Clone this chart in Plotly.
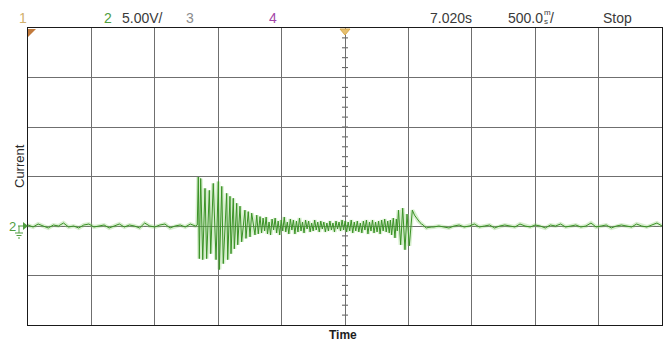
import plotly.graph_objects as go

# ---- figure geometry -------------------------------------------------------
W, H = 672, 342
ML, MR, MT, MB = 28, 10, 28, 17

T_RANGE_MS = [-2500, 2500]   # 10 div x 500 ms/div
V_DIV = 5.0                  # 5.00 V/div
V_RANGE = [-2 * V_DIV, 4 * V_DIV]   # ch2 ground sits one division below centre
T_DIV_MS = 500
T_CENTRE = 0.0

# ---- channel 2 record (time in ms from trigger, amplitude in V) ------------
pre_t = [-2500, -2460, -2420, -2380, -2340, -2300, -2260, -2220, -2180, -2140,
         -2100, -2060, -2020, -1980, -1940, -1900, -1860, -1820, -1780, -1740,
         -1700, -1660, -1620, -1580, -1540, -1500, -1460, -1420, -1380, -1340,
         -1300, -1260, -1220, -1180]
pre_v = [0.1, -0.1, 0.2, 0.0, -0.2, 0.1, 0.0, 0.3, -0.1, 0.0,
         -0.2, 0.1, 0.2, -0.1, 0.0, 0.1, -0.2, 0.0, 0.2, -0.1,
         0.1, 0.0, -0.2, 0.3, 0.0, -0.1, 0.1, 0.2, -0.2, 0.0,
         0.1, -0.1, 0.2, 0.0]

# main burst: alternating peaks of the ringing
burst = [(-1165, 0.1), (-1157, 4.95), (-1149, -3.3), (-1138, 4.8), (-1122, -3.4),
         (-1104, 3.8), (-1091, -3.3), (-1070, 3.6), (-1059, -2.8), (-1039, 4.3),
         (-1017, -3.4), (-999, 4.5), (-991, -4.4), (-972, 4.0), (-960, -3.8),
         (-933, 3.3), (-925, -3.4), (-907, 3.0), (-899, -2.8), (-881, 2.8),
         (-873, -2.3), (-854, 2.3), (-846, -1.9), (-828, 2.0), (-815, -1.6),
         (-789, 1.6), (-781, -1.25), (-763, 1.45), (-749, -1.1), (-736, 1.3),
         (-710, -0.9), (-696, 1.1), (-684, -0.8), (-670, 0.95)]

# residual ripple between the two events
ripple = [(-658, -0.7), (-646, 0.8), (-634, -0.5), (-622, 0.9), (-611, -0.8),
          (-599, 0.4), (-587, -0.9), (-575, 0.7), (-563, -0.4), (-551, 0.8),
          (-539, -0.7), (-527, 0.5), (-515, -0.9), (-503, 0.6), (-491, -0.5),
          (-479, 0.9), (-467, -0.6), (-455, 0.4), (-443, -0.8), (-431, 0.7),
          (-419, -0.4), (-407, 0.6), (-395, -0.8), (-383, 0.5), (-371, -0.6),
          (-359, 0.8), (-347, -0.5), (-335, 0.4), (-323, -0.7), (-311, 0.6),
          (-299, -0.3), (-287, 0.5), (-275, -0.6), (-263, 0.3), (-251, -0.5),
          (-239, 0.6), (-227, -0.4), (-215, 0.4), (-203, -0.6), (-191, 0.5),
          (-179, -0.3), (-167, 0.4), (-155, -0.6), (-143, 0.3), (-131, -0.5),
          (-119, 0.5), (-107, -0.4), (-95, 0.3), (-83, -0.6), (-71, 0.5),
          (-59, -0.3), (-47, 0.4), (-35, -0.5), (-23, 0.6), (-11, -0.4),
          (1, 0.5), (13, -0.6), (25, 0.4), (37, -0.5), (49, 0.6),
          (61, -0.7), (73, 0.4), (85, -0.5), (97, 0.5), (109, -0.6),
          (121, 0.3), (133, -0.7), (145, 0.5), (157, -0.4), (169, 0.6),
          (181, -0.8), (193, 0.4), (205, -0.5), (217, 0.6), (229, -0.7),
          (241, 0.4), (253, -0.6), (265, 0.5), (277, -0.8), (289, 0.6),
          (301, -0.5), (313, 0.7), (325, -0.6), (337, 0.5), (349, -0.7),
          (358, 0.6)]

# second event and its decay back to the baseline
second = [(368, -0.9), (381, 0.8), (394, -1.2), (405, 0.7), (412, -0.5),
          (422, 1.6), (439, -1.9), (455, 1.8), (473, -2.4), (489, 1.2),
          (507, -2.0), (531, 1.6), (548, 1.1), (565, 0.8), (578, 0.5),
          (591, 0.35), (604, 0.2), (617, 0.1), (631, -0.1), (643, -0.2),
          (655, -0.15), (670, -0.1), (685, -0.1)]

post_t = [700, 740, 780, 820, 860, 900, 940, 980, 1020, 1060,
          1100, 1140, 1180, 1220, 1260, 1300, 1340, 1380, 1420, 1460,
          1500, 1540, 1580, 1620, 1660, 1700, 1740, 1780, 1820, 1860,
          1900, 1940, 1980, 2020, 2060, 2100, 2140, 2180, 2220, 2260,
          2300, 2340, 2380, 2420, 2460, 2500]
post_v = [-0.1, 0.0, -0.1, -0.2, 0.0, 0.1, -0.1, 0.0, 0.2, -0.1,
          0.0, 0.1, -0.2, 0.0, 0.1, 0.0, -0.1, 0.2, 0.0, -0.1,
          0.1, 0.0, -0.2, 0.1, 0.0, 0.2, -0.1, 0.0, 0.1, -0.1,
          0.0, 0.3, -0.1, 0.0, 0.1, -0.2, 0.0, 0.1, 0.0, -0.1,
          0.2, 0.0, -0.1, 0.1, 0.3, 0.0]

t_ms = (pre_t + [p[0] for p in burst] + [p[0] for p in ripple]
        + [p[0] for p in second] + post_t)
ch2_v = (pre_v + [p[1] for p in burst] + [p[1] for p in ripple]
         + [p[1] for p in second] + post_v)

# ---- status line texts ----------------------------------------------------
ch_labels = ["1", "2", "3", "4"]
ch_colors = ["#d2b06c", "#4f9d3f", "#8c8c8c", "#a446a8"]
ch_scale = "5.00V/"
trig_time = "7.020s"
time_scale = "500.0"
run_state = "Stop"

# ---- helpers: pixel position -> paper coordinates --------------------------
PW, PH = W - ML - MR, H - MT - MB


def fx(px):
    return (px - ML) / PW


def fy(py):
    return (H - MB - py) / PH


fig = go.Figure()

# soft phosphor halo under the trace
fig.add_trace(go.Scatter(x=t_ms, y=ch2_v, mode="lines",
                         line=dict(color="rgba(140,205,115,0.35)", width=4),
                         hoverinfo="skip", showlegend=False))
fig.add_trace(go.Scatter(x=t_ms, y=ch2_v, mode="lines",
                         line=dict(color="#3a9226", width=1),
                         showlegend=False))

shapes = []
# fine ticks along the vertical centre graticule line (1/5 division)
v = V_RANGE[0] + V_DIV / 5
while v < V_RANGE[1] - 1e-9:
    shapes.append(dict(type="line", xref="x", yref="y", xsizemode="pixel",
                       xanchor=T_CENTRE, x0=-3, x1=3, y0=v, y1=v,
                       layer="below", line=dict(color="#5a5a5a", width=1)))
    v += V_DIV / 5


def path(points):
    s = "M " + " L ".join(f"{fx(a):.5f},{fy(b):.5f}" for a, b in points)
    return s + " Z"


# channel-1 marker in the top-left corner
shapes.append(dict(type="path", xref="paper", yref="paper",
                   path=path([(28, 29), (36, 29), (28, 37)]),
                   fillcolor="#c27a3c", line=dict(width=0)))
# trigger position marker at the top centre
shapes.append(dict(type="path", xref="paper", yref="paper",
                   path=path([(340, 29), (350, 29), (345, 35)]),
                   fillcolor="#e6c070", line=dict(color="#d8aa50", width=1)))
# channel-2 ground reference: arrow and ground symbol
g = "#4f9d3f"
shapes.append(dict(type="path", xref="paper", yref="paper",
                   path=path([(23, 222), (28, 226), (23, 230)]),
                   fillcolor=g, line=dict(width=0)))
for (x0, y0, x1, y1) in [(18, 226, 23, 226), (19, 226, 19, 233),
                         (15, 233, 23, 233), (16.5, 235.5, 21.5, 235.5),
                         (18, 238, 20, 238)]:
    shapes.append(dict(type="line", xref="paper", yref="paper",
                       x0=fx(x0), y0=fy(y0), x1=fx(x1), y1=fy(y1),
                       line=dict(color=g, width=1)))

HEAD = dict(family="Liberation Sans, Arial, sans-serif", size=14)
annotations = []


def note(text, px, py, color="#3a3a3a", size=14, xanchor="left", **kw):
    f = dict(HEAD)
    f.update(size=size, color=color)
    annotations.append(dict(text=text, x=fx(px), y=fy(py), xref="paper",
                            yref="paper", xanchor=xanchor, yanchor="middle",
                            showarrow=False, font=f, **kw))


note(ch_labels[0], 17, 18, ch_colors[0])
note(ch_labels[1], 102, 18, ch_colors[1])
note(ch_scale, 120, 18)
note(ch_labels[2], 184, 18, ch_colors[2])
note(ch_labels[3], 267, 18, ch_colors[3])
note(trig_time, 428, 18)
note(time_scale, 506, 18)
note("m", 542, 13, size=8)
note("s", 542, 21, size=8)
note("/", 548, 18)
note(run_state, 601, 18)
note("2", 12, 226, ch_colors[1], size=13, xanchor="center")

# axis names
annotations.append(dict(text="<b>Time</b>", x=fx(343), y=fy(335),
                        xref="paper", yref="paper", showarrow=False,
                        xanchor="center", yanchor="middle",
                        font=dict(family="Liberation Sans, Arial, sans-serif",
                                  size=12, color="#1e1e1e")))
annotations.append(dict(text="Current", x=fx(19), y=fy(166),
                        xref="paper", yref="paper", showarrow=False,
                        textangle=-90, xanchor="center", yanchor="middle",
                        font=dict(family="Liberation Sans, Arial, sans-serif",
                                  size=13, color="#2a2a2a")))

axis_common = dict(showgrid=True, gridcolor="#6f6f6f", gridwidth=1,
                   zeroline=False, showline=True, mirror=True,
                   linecolor="#1a1a1a", linewidth=1, ticks="",
                   showticklabels=False, fixedrange=True)

fig.update_layout(
    width=W, height=H,
    margin=dict(l=ML, r=MR, t=MT, b=MB),
    paper_bgcolor="white", plot_bgcolor="white",
    xaxis=dict(range=T_RANGE_MS, tick0=0, dtick=T_DIV_MS, **axis_common),
    yaxis=dict(range=V_RANGE, tick0=0, dtick=V_DIV, **axis_common),
    shapes=shapes, annotations=annotations, showlegend=False,
)

fig.write_html("out.html")
